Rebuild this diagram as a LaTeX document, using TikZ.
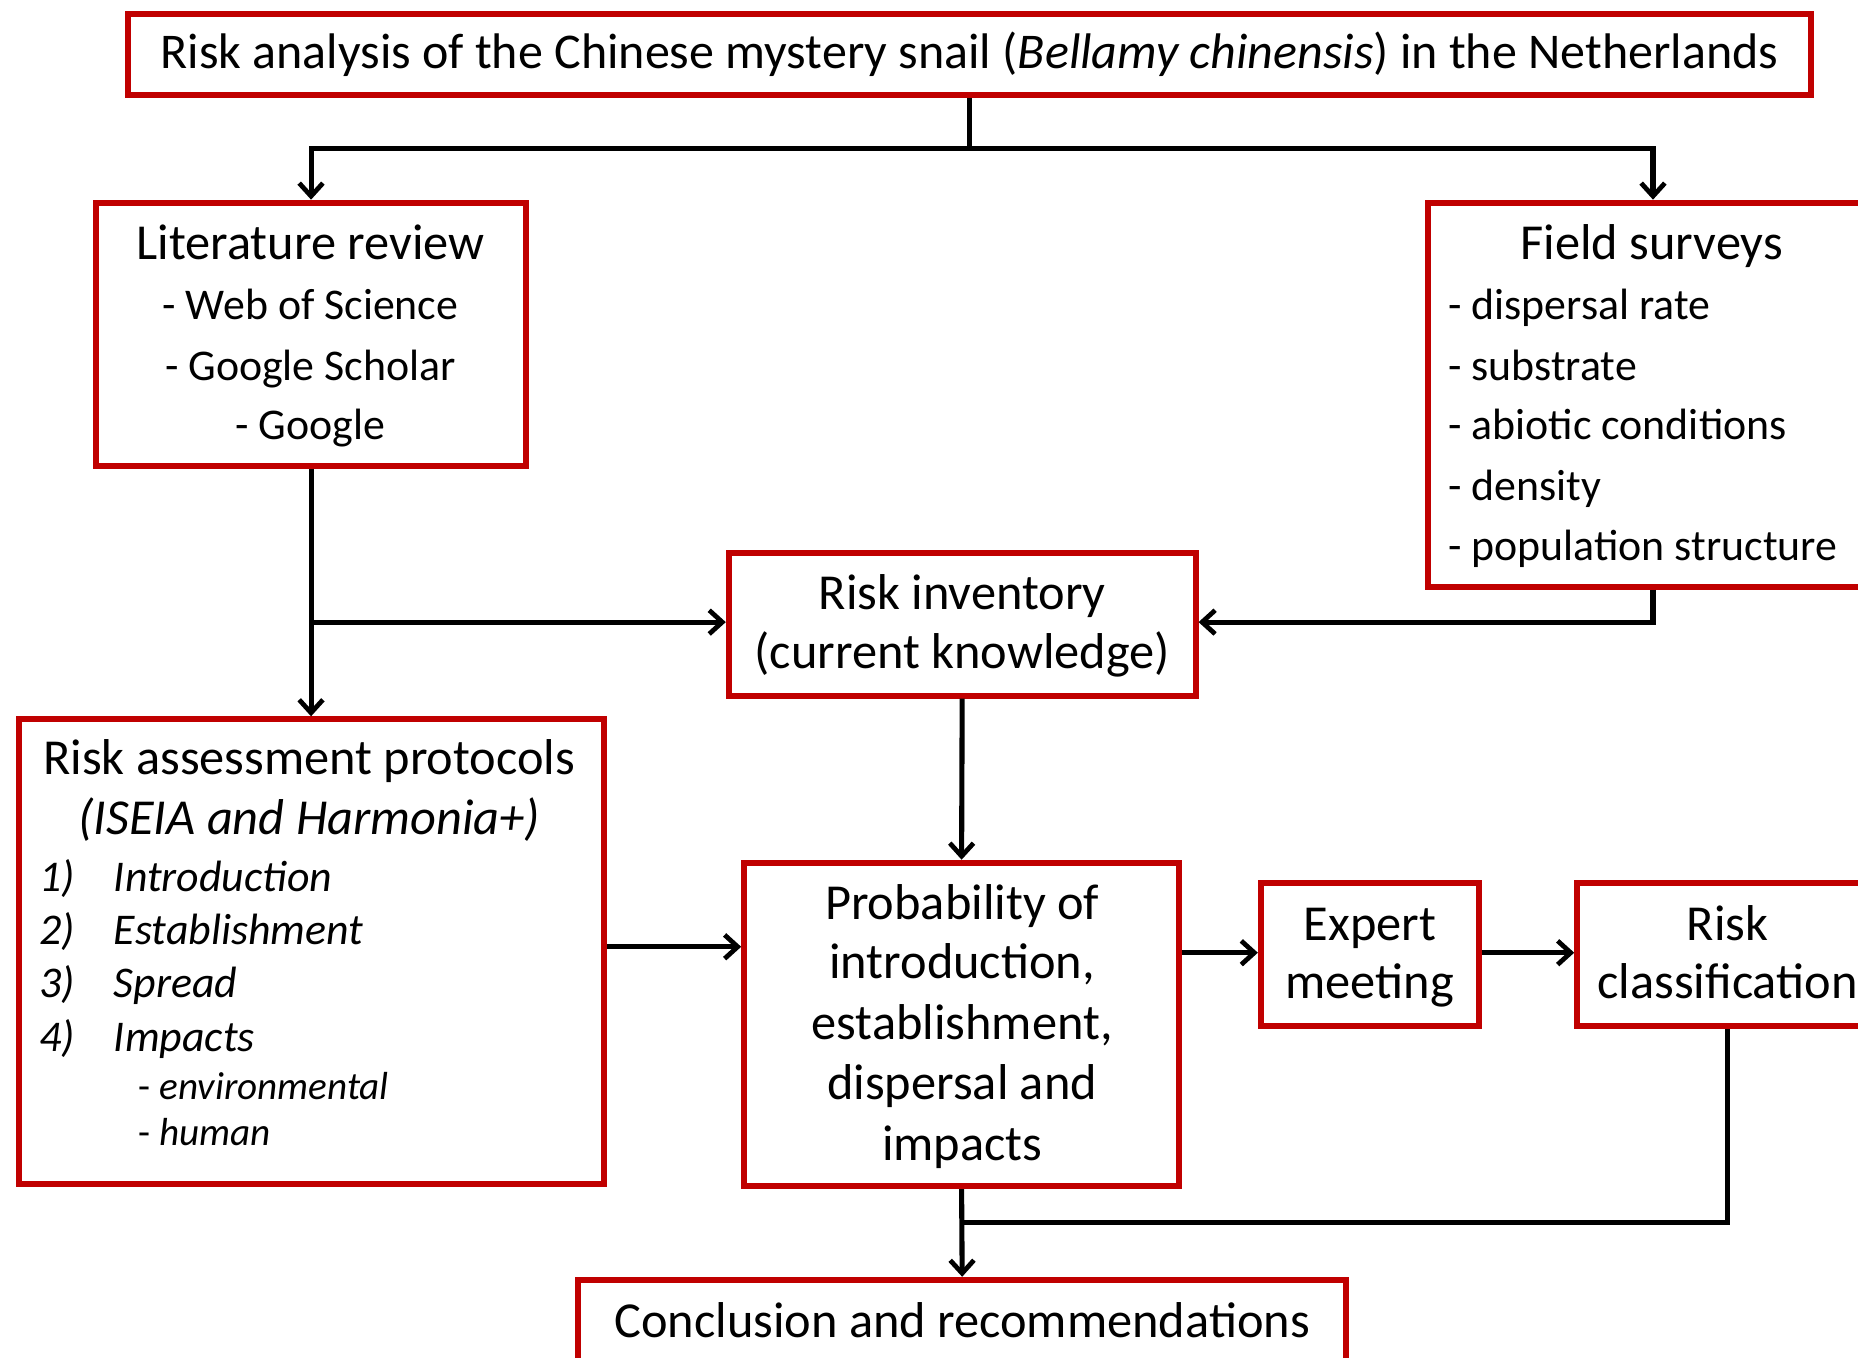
\documentclass[tikz,border=0pt]{standalone}
\usepackage{fontspec}
\setmainfont{Carlito}
\usetikzlibrary{arrows.meta}
\definecolor{boxred}{RGB}{192,0,0}
\newcommand{\itemfont}{\fontsize{37}{51}\selectfont}
\tikzset{
 box/.style={draw=boxred, line width=5pt, fill=white, inner sep=0pt, align=center, font=\fontsize{42.2}{51}\selectfont},
 conn/.style={draw=black, line width=4.3pt, -{Straight Barb[length=11pt,width=20pt,line width=4pt]}},
 plainline/.style={draw=black, line width=4.3pt},
 txt/.style={inner sep=0pt, yshift=-5pt, font=\fontsize{42.5}{51}\selectfont, text height=28pt, text depth=12pt},
 itemtxt/.style={inner sep=0pt, yshift=-5pt, font=\itemfont, text height=25pt, text depth=11pt},
 smalltxt/.style={inner sep=0pt, yshift=-4pt, font=\fontsize{33}{39}\selectfont, text height=22pt, text depth=9pt}
}
\begin{document}
\begin{tikzpicture}[x=1pt,y=-1pt]
\useasboundingbox (0,0) rectangle (1568,1146);
\clip (0,0) rectangle (1568,1146);
% boxes
\node[box, minimum width=1420pt, minimum height=68pt] (title) at (818,46) {\raisebox{-5pt}{Risk analysis of the Chinese mystery snail (\textit{Bellamy chinensis}) in the Netherlands}};
\node[box, minimum width=363pt, minimum height=222pt] (lit) at (262.5,282) {};
\node[box, minimum width=380pt, minimum height=324pt] (field) at (1395,333) {};
\node[box, minimum width=394pt, minimum height=120pt] (inv) at (812,527) {};
\node[box, minimum width=494pt, minimum height=392pt] (ra) at (263,803) {};
\node[box, minimum width=367pt, minimum height=273pt] (prob) at (811.5,864.5) {};
\node[box, minimum width=184pt, minimum height=121pt] (exp) at (1156,805.5) {};
\node[box, minimum width=254pt, minimum height=121pt] (rc) at (1458,805.5) {};
\node[box, minimum width=648pt, minimum height=72pt] (conc) at (812,1116) {};
% literature review texts
\node[txt] (lt0) at (262,206) {Literature review};
\node[itemtxt] (lt1) at (262,258) {- Web of Science};
\node[itemtxt] (lt2) at (262,309) {- Google Scholar};
\node[itemtxt] (lt3) at (262,359) {- Google};
% field survey texts
\node[txt] (fs0) at (1394,206) {Field surveys};
\node[itemtxt, anchor=west] (fs1) at (1222,258) {- dispersal rate};
\node[itemtxt, anchor=west] (fs2) at (1222,309) {- substrate};
\node[itemtxt, anchor=west] (fs3) at (1222,359) {- abiotic conditions};
\node[itemtxt, anchor=west] (fs4) at (1222,410) {- density};
\node[itemtxt, anchor=west] (fs5) at (1222,461) {- population structure};
% risk inventory
\node[txt] (iv0) at (812,501) {Risk inventory};
\node[txt] (iv1) at (812,551) {(current knowledge)};
% risk assessment texts
\node[txt] (ra0) at (261,641) {Risk assessment protocols};
\node[txt] (ra1) at (261,691) {\textit{(ISEIA and Harmonia+)}};
\node[itemtxt, anchor=west] (n1) at (33,740) {\textit{1)}};
\node[itemtxt, anchor=west] (n2) at (33,785) {\textit{2)}};
\node[itemtxt, anchor=west] (n3) at (33,830) {\textit{3)}};
\node[itemtxt, anchor=west] (n4) at (33,875) {\textit{4)}};
\node[itemtxt, anchor=west] (i1) at (96,740) {\textit{Introduction}};
\node[itemtxt, anchor=west] (i2) at (96,785) {\textit{Establishment}};
\node[itemtxt, anchor=west] (i3) at (96,830) {\textit{Spread}};
\node[itemtxt, anchor=west] (i4) at (96,875) {\textit{Impacts}};
\node[smalltxt, anchor=west] (s1) at (117,917) {- \textit{environmental}};
\node[smalltxt, anchor=west] (s2) at (117,956) {- \textit{human}};
% probability
\node[txt] (p0) at (812,763) {Probability of};
\node[txt] (p1) at (812,813) {introduction,};
\node[txt] (p2) at (812,864) {establishment,};
\node[txt] (p3) at (812,915) {dispersal and};
\node[txt] (p4) at (812,966) {impacts};
% expert, classification, conclusion
\node[txt] (e0) at (1156,781) {Expert};
\node[txt] (e1) at (1156,830) {meeting};
\node[txt] (c0) at (1458,781) {Risk};
\node[txt] (c1) at (1458,830) {classification};
\node[txt] (k0) at (812,1116) {Conclusion and recommendations};
% connectors
\coordinate (t) at (818,125);
\coordinate (m) at (812,1032);
\draw[plainline] (title.south) -- (t);
\draw[conn] (t) -| (lit.north);
\draw[conn] (t) -| (field.north);
\draw[conn] (lit.south) -- (lit.south |- ra.north);
\draw[conn] (lit.south |- 0,525) -- (inv.west |- 0,525);
\draw[conn] (field.south) |- (inv.east |- 0,525);
\draw[conn] (inv.south) -- (prob.north);
\draw[conn] (ra.east |- 0,799) -- (prob.west |- 0,799);
\draw[conn] (prob.east |- 0,804) -- (exp.west |- 0,804);
\draw[conn] (exp.east |- 0,804) -- (rc.west |- 0,804);
\draw[plainline] (rc.south) |- (m);
\draw[conn] (prob.south) -- (conc.north);
\end{tikzpicture}
\end{document}
